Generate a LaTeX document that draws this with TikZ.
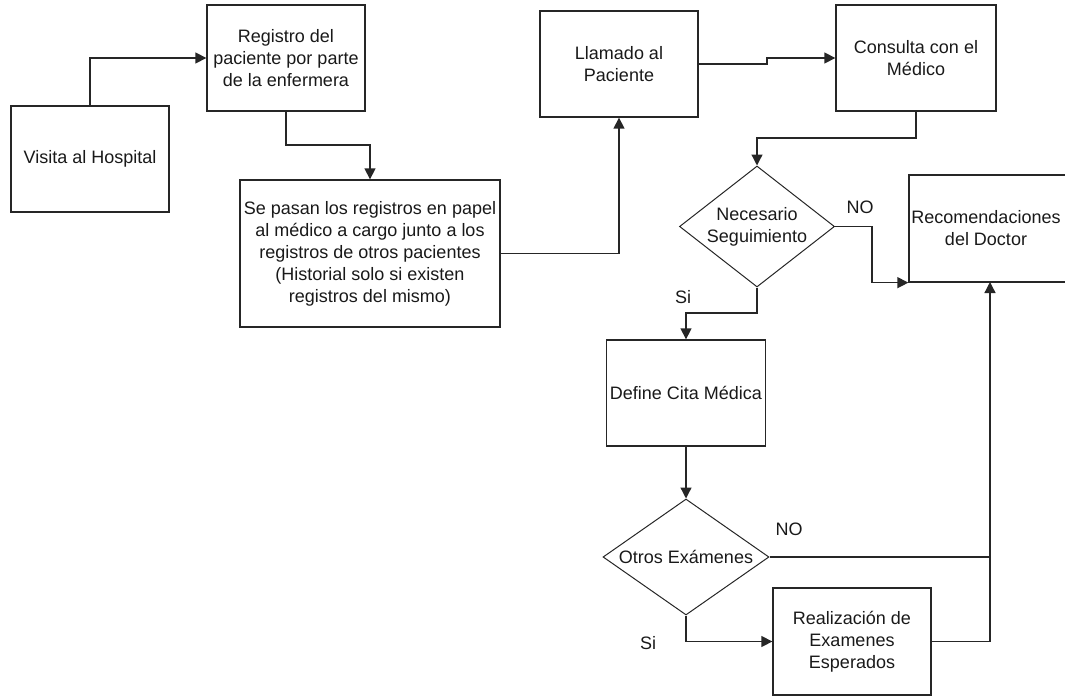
\documentclass[tikz,border=0pt]{standalone}
\usepackage{fontspec}
\setmainfont{Liberation Sans}
\usetikzlibrary{arrows.meta,shapes.geometric}
\begin{document}
\begin{tikzpicture}[x=1pt,y=-1pt,
  every node/.style={font=\fontsize{18}{22}\selectfont, text=black!90},
  boxn/.style={draw=black!85, line width=1.3pt, rectangle, inner sep=0pt, align=center},
  dian/.style={draw=black!85, line width=1pt, diamond, inner sep=0pt},
  txt/.style={align=center, inner sep=0pt},
  conn/.style={draw=black!85, line width=1.3pt},
  arr/.style={conn, -{Triangle[length=11pt,width=11pt]}}
]
\useasboundingbox (0,0) rectangle (1065,698);
% boxes
\node[boxn, minimum width=158, minimum height=106] (visita) at (90,159) {Visita al Hospital};
\node[boxn, minimum width=158, minimum height=106] (registro) at (286,58) {Registro del\\paciente por parte\\de la enfermera};
\node[boxn, minimum width=260, minimum height=147] (pasan) at (370,253.5) {Se pasan los registros en papel\\al m\'edico a cargo junto a los\\registros de otros pacientes\\(Historial solo si existen\\registros del mismo)};
\node[boxn, minimum width=158, minimum height=106] (llamado) at (619,64) {Llamado al\\Paciente};
\node[boxn, minimum width=160, minimum height=106] (consulta) at (916,58) {Consulta con el\\M\'edico};
\node[dian, minimum width=155, minimum height=121] (nec) at (757,226.5) {};
\node[txt] (nectxt) at (nec.center) {Necesario\\Seguimiento};
\node[boxn, minimum width=159, minimum height=107] (recom) at (988.5,228.5) {};
\node[txt] (recomtxt) at (986,228) {Recomendaciones\\del Doctor};
\node[boxn, minimum width=159, minimum height=106] (define) at (686,393) {Define Cita M\'edica};
\node[dian, minimum width=166, minimum height=116] (otros) at (686,557) {};
\node[txt] (otrostxt) at (otros.center) {Otros Ex\'amenes};
\node[boxn, minimum width=158, minimum height=107] (realiz) at (852,641.5) {Realizaci\'on de\\Examenes\\Esperados};
% labels
\node[txt] (no1) at (860,207) {NO};
\node[txt] (si1) at (683,297) {Si};
\node[txt] (no2) at (789,529) {NO};
\node[txt] (si2) at (648,643) {Si};
% junction
\coordinate (j) at (990,282);
\coordinate (j2) at (990,557);
% connectors
\draw[arr] (visita.north) |- (registro.west);
\draw[arr] (registro.south) -- (286,145) -| (pasan.north);
\draw[arr] (pasan.east) -| (llamado.south);
\draw[arr] (llamado.east) -- (767,64) -- (767,58) -- (consulta.west);
\draw[arr] (consulta.south) -- (916,138) -| (nec.north);
\draw[arr] (nec.east) -- (872,226.5) |- (recom.south west);
\draw[arr] (nec.south) -- (757,313) -| (define.north);
\draw[arr] (define.south) -- (otros.north);
\draw[arr] (otros.east) -| (j);
\draw[conn] (realiz.east) -| (j2);
\draw[arr] (otros.south) |- (realiz.west);
\end{tikzpicture}
\end{document}
